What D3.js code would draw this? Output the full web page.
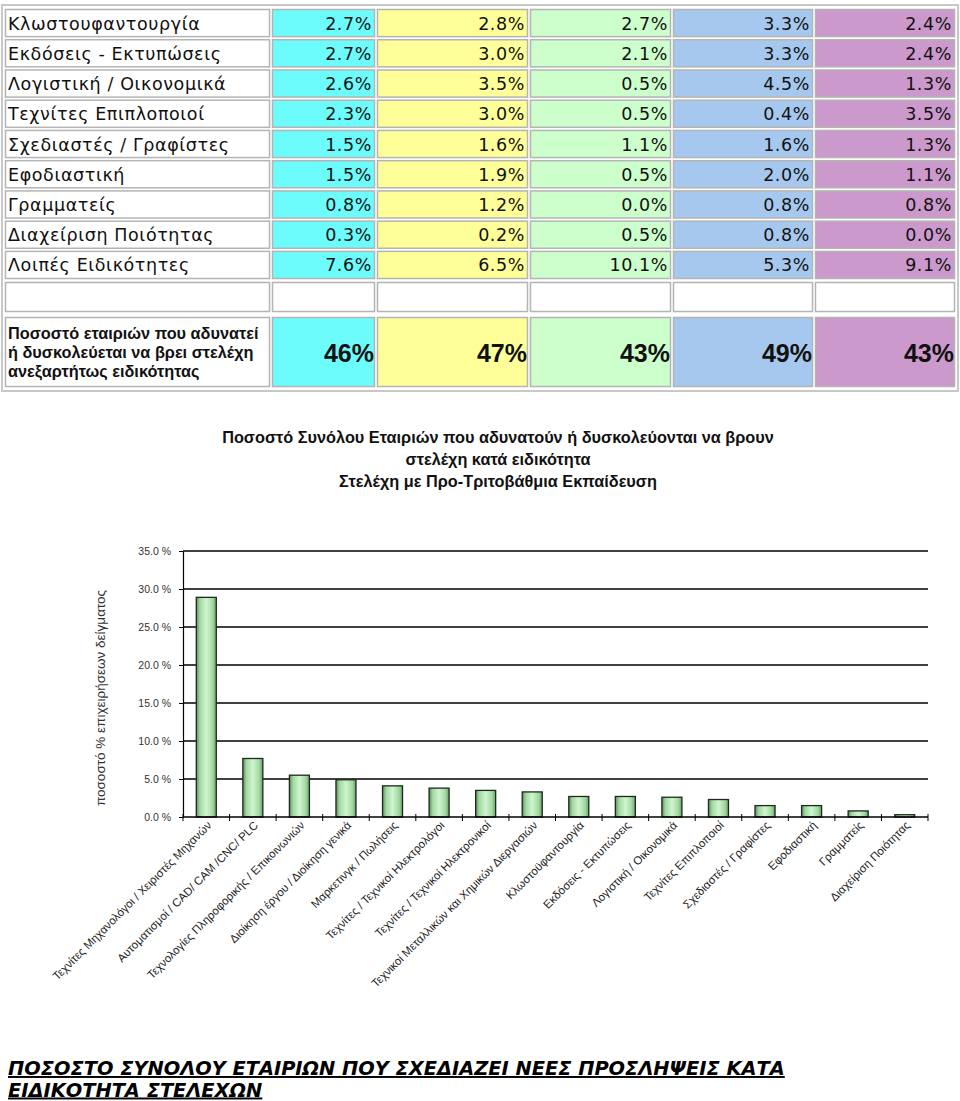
<!DOCTYPE html>
<html><head><meta charset="utf-8">
<script src="https://cdn.jsdelivr.net/npm/d3@7"></script>
<style>body{margin:0;background:#fff;} svg{display:block;}</style>
</head><body>
<script>
// ---------- DATA ----------
const rowLabels = ["Κλωστουφαντουργία","Εκδόσεις - Εκτυπώσεις","Λογιστική / Οικονομικά","Τεχνίτες Επιπλοποιοί","Σχεδιαστές / Γραφίστες","Εφοδιαστική","Γραμματείς","Διαχείριση Ποιότητας","Λοιπές Ειδικότητες"];
const col1 = [2.7,2.7,2.6,2.3,1.5,1.5,0.8,0.3,7.6];
const col2 = [2.8,3.0,3.5,3.0,1.6,1.9,1.2,0.2,6.5];
const col3 = [2.7,2.1,0.5,0.5,1.1,0.5,0.0,0.5,10.1];
const col4 = [3.3,3.3,4.5,0.4,1.6,2.0,0.8,0.8,5.3];
const col5 = [2.4,2.4,1.3,3.5,1.3,1.1,0.8,0.0,9.1];
const totalLabel = ["Ποσοστό εταιριών που αδυνατεί","ή δυσκολεύεται να βρει στελέχη","ανεξαρτήτως ειδικότητας"];
const totals = [46,47,43,49,43];

const chartTitle = ["Ποσοστό Συνόλου Εταιριών που αδυνατούν ή δυσκολεύονται να βρουν","στελέχη κατά ειδικότητα","Στελέχη με Προ-Τριτοβάθμια Εκπαίδευση"];
const yAxisTitle = "ποσοστό % επιχειρήσεων δείγματος";
const categories = ["Τεχνίτες Μηχανολόγοι / Χειριστές Μηχανών","Αυτοματισμοί / CAD/ CAM /CNC/ PLC","Τεχνολογίες Πληροφορικής / Επικοινωνιών","Διοίκηση έργου / Διοίκηση γενικά","Μαρκετινγκ / Πωλήσεις","Τεχνίτες / Τεχνικοί Ηλεκτρολόγοι","Τεχνίτες / Τεχνικοί Ηλεκτρονικοί","Τεχνικοί Μεταλλικών και Χημικών Διεργασιών","Κλωστοϋφαντουργία","Εκδόσεις - Εκτυπώσεις","Λογιστική / Οικονομικά","Τεχνίτες Επιπλοποιοί","Σχεδιαστές / Γραφίστες","Εφοδιαστική","Γραμματείς","Διαχείριση Ποιότητας"];
const values = [28.9,7.7,5.5,4.9,4.1,3.8,3.5,3.3,2.7,2.7,2.6,2.3,1.5,1.5,0.8,0.3];
const yTicks = [0,5,10,15,20,25,30,35];
const footer = ["ΠΟΣΟΣΤΟ ΣΥΝΟΛΟΥ ΕΤΑΙΡΙΩΝ ΠΟΥ ΣΧΕΔΙΑΖΕΙ ΝΕΕΣ ΠΡΟΣΛΗΨΕΙΣ ΚΑΤΑ","ΕΙΔΙΚΟΤΗΤΑ ΣΤΕΛΕΧΩΝ"];

// ---------- SVG ----------
const W = 960, H = 1101;
const svg = d3.select("body").append("svg").attr("width", W).attr("height", H);

// ---------- TABLE ----------
const series = [col1,col2,col3,col4,col5];
const colColors = ["#6cfcfc","#ffff99","#ccffcc","#a6c8ee","#cc99cc"];
const colEdges = [[5,270],[272,375],[377,528],[530,671],[673,813],[815,955]];
const rowY = d3.scaleBand().domain(d3.range(rowLabels.length)).range([9,279]).paddingInner(0.07).paddingOuter(0);
const tbl = svg.append("g");
tbl.append("rect").attr("x",2).attr("y",5).attr("width",956).attr("height",386)
  .attr("fill","none").attr("stroke","#c8c8c8").attr("stroke-width",2);

const TF = "DejaVu Sans, Verdana, sans-serif";
function cell(x0,x1,y,h,fill){
  tbl.append("rect").attr("x",x0+0.5).attr("y",y+0.5).attr("width",x1-x0-1).attr("height",h-1)
    .attr("fill",fill).attr("stroke","#b4b4b4").attr("stroke-width",1.5);
}
rowLabels.forEach((lab,i)=>{
  const y = rowY(i), h = rowY.bandwidth();
  cell(colEdges[0][0],colEdges[0][1],y,h,"#ffffff");
  tbl.append("text").attr("x",colEdges[0][0]+3).attr("y",y+h/2+6.5)
    .attr("font-family",TF).attr("font-size",17.5).attr("letter-spacing",0.6).attr("fill","#111").text(lab);
  series.forEach((s,j)=>{
    const [x0,x1] = colEdges[j+1];
    cell(x0,x1,y,h,colColors[j]);
    tbl.append("text").attr("x",x1-3).attr("y",y+h/2+6.5).attr("text-anchor","end")
      .attr("font-family",TF).attr("font-size",17.5).attr("letter-spacing",0.6).attr("fill","#111")
      .text(s[i].toFixed(1)+"%");
  });
});
// empty row
colEdges.forEach(([x0,x1])=>cell(x0,x1,282,30,"#ffffff"));
// totals row
const tY = 317, tH = 70;
cell(colEdges[0][0],colEdges[0][1],tY,tH,"#ffffff");
totalLabel.forEach((t,k)=>{
  tbl.append("text").attr("x",8).attr("y",339+k*19)
    .attr("font-family","Liberation Sans, Arial, sans-serif").attr("font-weight","bold").attr("font-size",16.3)
    .attr("fill","#111").text(t);
});
totals.forEach((v,j)=>{
  const [x0,x1] = colEdges[j+1];
  cell(x0,x1,tY,tH,colColors[j]);
  tbl.append("text").attr("x",x1-1).attr("y",362).attr("text-anchor","end")
    .attr("font-family","Liberation Sans, Arial, sans-serif").attr("font-weight","bold").attr("font-size",25)
    .attr("fill","#111").text(v+"%");
});

// ---------- CHART ----------
const ch = svg.append("g");
chartTitle.forEach((t,k)=>{
  ch.append("text").attr("x",498).attr("y",443+k*22).attr("text-anchor","middle")
    .attr("font-family","Liberation Sans, Arial, sans-serif").attr("font-weight","bold").attr("font-size",16.3)
    .attr("fill","#111").text(t);
});

const x = d3.scaleBand().domain(categories).range([183,928]).paddingInner(0.57).paddingOuter(0.285);
const y = d3.scaleLinear().domain([0,35]).range([817,551]);

const defs = svg.append("defs");
const grad = defs.append("linearGradient").attr("id","barGrad").attr("x1","0").attr("x2","1").attr("y1","0").attr("y2","0");
[[0,"#5a8c5a"],[0.18,"#a2d8a2"],[0.5,"#cff5cf"],[0.82,"#a2d8a2"],[1,"#6a9c6a"]].forEach(([o,c])=>
  grad.append("stop").attr("offset",o).attr("stop-color",c));

// gridlines
ch.selectAll("line.grid").data(yTicks.filter(d=>d>0)).enter().append("line")
  .attr("x1",183).attr("x2",928).attr("y1",d=>y(d)).attr("y2",d=>y(d))
  .attr("stroke","#000").attr("stroke-width",1.4);

// y axis
const yAxis = d3.axisLeft(y).tickValues(yTicks).tickFormat(d=>d.toFixed(1)+" %").tickSize(4).tickSizeOuter(0).tickPadding(8);
const yg = ch.append("g").attr("transform","translate(183,0)").call(yAxis);
yg.select(".domain").attr("stroke","#000").attr("stroke-width",1.2);
yg.selectAll(".tick line").attr("stroke","#000");
yg.selectAll(".tick text").attr("font-family","Liberation Sans, Arial, sans-serif").attr("font-size",10.5).attr("fill","#333");

// y axis title
ch.append("text").attr("transform","translate(105,698) rotate(-90)").attr("text-anchor","middle")
  .attr("font-family","Liberation Sans, Arial, sans-serif").attr("font-size",13.5).attr("fill","#333").text(yAxisTitle);

// bars
ch.selectAll("rect.bar").data(values).enter().append("rect")
  .attr("x",(d,i)=>x(categories[i])).attr("width",x.bandwidth())
  .attr("y",d=>y(d)).attr("height",d=>y(0)-y(d))
  .attr("fill","url(#barGrad)").attr("stroke","#1e2a1e").attr("stroke-width",1.3);

// x axis line & ticks
ch.append("line").attr("x1",183).attr("x2",928).attr("y1",y(0)).attr("y2",y(0)).attr("stroke","#000").attr("stroke-width",1.4);
const bounds = categories.map(c=>x(c)+x.bandwidth()/2-x.step()/2).concat([928]);
ch.selectAll("line.xt").data(bounds).enter().append("line")
  .attr("x1",d=>d).attr("x2",d=>d).attr("y1",y(0)-3).attr("y2",y(0)+4).attr("stroke","#000");

// x labels
ch.selectAll("text.xl").data(categories).enter().append("text")
  .attr("transform",c=>`translate(${x(c)+x.bandwidth()/2+6},${y(0)+9}) rotate(-45)`)
  .attr("text-anchor","end")
  .attr("font-family","Liberation Sans, Arial, sans-serif").attr("font-size",11.5).attr("fill","#222").text(c=>c);

// ---------- FOOTER ----------
footer.forEach((t,k)=>{
  svg.append("text").attr("x",8).attr("y",1075+k*21.5)
    .attr("font-family","DejaVu Sans, Verdana, sans-serif").attr("font-weight","bold").attr("font-style","italic")
    .attr("font-size",19.4).attr("text-decoration","underline").attr("fill","#000").text(t);
});
</script>
</body></html>
